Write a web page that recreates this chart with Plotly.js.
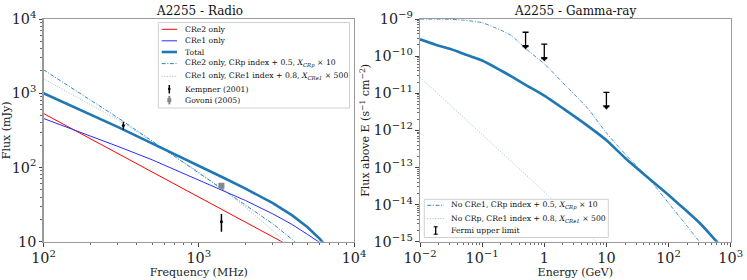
<!DOCTYPE html>
<html><head><meta charset="utf-8">
<script src="https://cdn.plot.ly/plotly-3.0.1.min.js"></script>
<style>html,body{margin:0;padding:0;background:#fff}#chart{width:747px;height:280px}</style>
</head><body><div id="chart"></div>
<script>
// ---------- Radio panel data (MHz, mJy) ----------
const radioFreq   = [100,150,200,300,500,700,1000,1500,2000,3000,4000,5000,6000,7000];
const radioTotal  = [1000,685,525,352,211,151,107,70,52,33,22.6,15.8,11,7.6];
const radioCRe1   = [457,335,268,193,127,94,67.6,46.8,35.9,23.7,17,12.6,9.8,7.4];
const radioCRe2Freq = [100,200,500,1000,2000,3000,4000];
const radioCRe2     = [533,244,87,40,18.3,11.6,8.4];
const radioCRe2AltFreq = [100,200,300,500,700,1000,1500,2000,3000,4000,5000];
const radioCRe2Alt     = [2070,813,470,228,141,85,48,31.6,17.4,10.7,7.1];
const radioCRe1AltFreq = [100,200,300,500,700,1000,1500,2000,3000,4000];
const radioCRe1Alt     = [1570,705,442,224,141,87,46.8,29.2,14.1,8.1];
const kempFreq = [327,1400], kempFlux = [368,18.6], kempErr = [44,5];
const govFreq = [1400], govFlux = [56.5], govErr = [3];

// ---------- Gamma panel data (GeV, s^-1 cm^-2) ----------
const gammaE      = [0.01,0.02,0.03,0.05,0.1,0.2,0.3,0.5,1,2,5,10,20,50,100,200,300,500,700];
const gammaTotal  = [2.83e-10,1.9e-10,1.57e-10,1.16e-10,7.6e-11,4.1e-11,2.8e-11,1.68e-11,8.6e-12,3.9e-12,1.32e-12,5.4e-13,1.8e-13,4.8e-14,1.8e-14,6.5e-15,3.5e-15,1.4e-15,7.4e-16];
const gammaCRpE   = [0.01,0.03,0.05,0.1,0.2,0.3,0.5,1,2,5,10,20,50,100,200,300,500];
const gammaCRp    = [9.9e-10,9.8e-10,9.3e-10,7.9e-10,5.0e-10,3.5e-10,1.6e-10,6.2e-11,1.9e-11,3.9e-12,8.5e-13,2.3e-13,4.6e-14,1.1e-14,2.6e-15,1.1e-15,4.5e-16];
const gammaCRe1E  = [0.01,0.03,0.1,0.3,1,3,10];
const gammaCRe1   = [2.7e-11,5.0e-12,7.9e-13,1.4e-13,2.2e-14,3.8e-15,5.6e-16];
const fermiE = [0.5,1,10], fermiUL = [4.4e-10,2.1e-10,1.06e-11];

// ---------- styles ----------
const C = '#1f77b4', CL = 'rgba(31,119,180,0.55)';
const DASHDOT = '4px,1.6px,1px,1.6px', DOT = '1px,1.6px';
const FONT = 'DejaVu Serif, serif';
const W = 747, H = 280;
const px = v => v / W, py = v => 1 - v / H;
const ARROW = 0.41; // arrow length factor (style)

const traces = [
  {x: radioCRe2Freq, y: radioCRe2, mode:'lines', line:{color:'red', width:1}, xaxis:'x', yaxis:'y'},
  {x: radioFreq, y: radioCRe1, mode:'lines', line:{color:'#2b2bff', width:1}, xaxis:'x', yaxis:'y'},
  {x: radioCRe2AltFreq, y: radioCRe2Alt, mode:'lines', line:{color:C, width:0.9, dash:DASHDOT}, xaxis:'x', yaxis:'y'},
  {x: radioCRe1AltFreq, y: radioCRe1Alt, mode:'lines', line:{color:CL, width:0.9, dash:DOT}, xaxis:'x', yaxis:'y'},
  {x: radioFreq, y: radioTotal, mode:'lines', line:{color:C, width:2.6}, xaxis:'x', yaxis:'y'},
  {x: govFreq, y: govFlux, mode:'markers', marker:{symbol:'square', size:6, color:'#888'},
   error_y:{type:'data', array:govErr, color:'#888', thickness:2, width:0}, xaxis:'x', yaxis:'y'},
  {x: kempFreq, y: kempFlux, mode:'markers', marker:{symbol:'circle', size:3, color:'black'},
   error_y:{type:'data', array:kempErr, color:'black', thickness:1.5, width:0}, xaxis:'x', yaxis:'y'},

  {x: gammaE, y: gammaTotal, mode:'lines', line:{color:C, width:2.6, shape:'spline', smoothing:0.6}, xaxis:'x2', yaxis:'y2'},
  {x: gammaCRpE, y: gammaCRp, mode:'lines', line:{color:C, width:0.8, dash:DASHDOT, shape:'spline', smoothing:0.6}, xaxis:'x2', yaxis:'y2'},
  {x: gammaCRe1E, y: gammaCRe1, mode:'lines', line:{color:CL, width:0.8, dash:DOT}, xaxis:'x2', yaxis:'y2'},
  {x: fermiE, y: fermiUL, mode:'markers', marker:{size:1, color:'black'},
   error_y:{type:'data', symmetric:false, array:fermiUL.map(()=>0), arrayminus:fermiUL.map(v=>v*(1-ARROW)), color:'black', thickness:1.3, width:3}, xaxis:'x2', yaxis:'y2'},
  {x: fermiE, y: fermiUL.map(v=>v*ARROW), mode:'markers', marker:{symbol:'triangle-down', size:6, color:'black'}, xaxis:'x2', yaxis:'y2'}
].map(t => Object.assign({showlegend:false, hoverinfo:'skip'}, t));

const axisBase = {
  type:'log', showgrid:false, zeroline:false, showline:true, mirror:true,
  linecolor:'#9a9a9a', linewidth:1.3, ticks:'outside', ticklen:3.5, tickwidth:1, tickcolor:'#444',
  exponentformat:'power', dtick:1,
  tickfont:{family:FONT, size:11.5, color:'#222'},
  minor:{ticks:'outside', ticklen:2, tickwidth:0.8, tickcolor:'#444', showgrid:false}
};
const tfont = {family:FONT, size:11, color:'#222'};

const layout = {
  width:W, height:H, margin:{l:0,r:0,t:0,b:0}, paper_bgcolor:'white', plot_bgcolor:'white',
  showlegend:false,
  xaxis: Object.assign({}, axisBase, {domain:[px(43.5), px(354)], range:[2,4], anchor:'y',
    title:{text:'Frequency (MHz)', font:tfont, standoff:2}}),
  yaxis: Object.assign({}, axisBase, {domain:[py(241.7), py(19)], range:[1,4], anchor:'x',
    title:{text:'Flux (mJy)', font:tfont, standoff:3}}),
  xaxis2: Object.assign({}, axisBase, {domain:[px(420), px(730.7)], range:[-2,3], anchor:'y2',
    title:{text:'Energy (GeV)', font:tfont, standoff:2}}),
  yaxis2: Object.assign({}, axisBase, {domain:[py(241.7), py(19)], range:[-15,-9], anchor:'x2',
    title:{text:'Flux above E (s<sup>−1</sup> cm<sup>−2</sup>)', font:tfont, standoff:1}}),
  annotations:[], shapes:[]
};

// titles
layout.annotations.push({text:'A2255 - Radio', x:px(199), y:py(11.5), xref:'paper', yref:'paper', showarrow:false, font:{family:FONT,size:12,color:'#111'}, xanchor:'center', yanchor:'middle'});
layout.annotations.push({text:'A2255 - Gamma-ray', x:px(575), y:py(11.5), xref:'paper', yref:'paper', showarrow:false, font:{family:FONT,size:12,color:'#111'}, xanchor:'center', yanchor:'middle'});

// manual legends (matplotlib-style compact)
function box(x0,y0,x1,y1){
  layout.shapes.push({type:'rect', xref:'paper', yref:'paper', x0:px(x0), x1:px(x1), y0:py(y0), y1:py(y1),
    line:{color:'#d0d0d0', width:1}, fillcolor:'rgba(255,255,255,0.85)', layer:'above'});
}
function lineSample(x0,x1,y,style){
  layout.shapes.push({type:'line', xref:'paper', yref:'paper', x0:px(x0), x1:px(x1), y0:py(y), y1:py(y), layer:'above', line:style});
}
function label(x,y,text){
  layout.annotations.push({text:text, x:px(x), y:py(y), xref:'paper', yref:'paper', showarrow:false,
    xanchor:'left', yanchor:'middle', font:{family:FONT, size:7.7, color:'#111'}});
}
const legL = ['CRe2 only','CRe1 only','Total',
  'CRe2 only, CRp index + 0.5, <i>X</i><sub><i>CRp</i></sub> × 10',
  'CRe1 only, CRe1 index + 0.8, <i>X</i><sub><i>CRe1</i></sub> × 500',
  'Kempner (2001)','Govoni (2005)'];
const rowsL = [29.3,40.8,52.0,63.6,76.4,89.0,100.2];
box(158.3,22.5,349.5,108);
lineSample(161.7,177,rowsL[0],{color:'red',width:1});
lineSample(161.7,177,rowsL[1],{color:'#2b2bff',width:1});
lineSample(161.7,177,rowsL[2],{color:C,width:2.6});
lineSample(161.7,177,rowsL[3],{color:C,width:0.9,dash:DASHDOT});
lineSample(161.7,177,rowsL[4],{color:CL,width:0.9,dash:DOT});
// Kempner symbol
layout.shapes.push({type:'line', xref:'paper', yref:'paper', x0:px(169.3), x1:px(169.3), y0:py(85), y1:py(93.5), line:{color:'black',width:1.5}, layer:'above'});
layout.shapes.push({type:'circle', xref:'paper', yref:'paper', x0:px(168), x1:px(170.6), y0:py(87.7), y1:py(90.3), fillcolor:'black', line:{width:0}, layer:'above'});
// Govoni symbol
layout.shapes.push({type:'line', xref:'paper', yref:'paper', x0:px(169.3), x1:px(169.3), y0:py(96), y1:py(104.4), line:{color:'#888',width:2}, layer:'above'});
layout.shapes.push({type:'rect', xref:'paper', yref:'paper', x0:px(167.3), x1:px(171.3), y0:py(98.2), y1:py(102.2), fillcolor:'#888', line:{width:0}, layer:'above'});
legL.forEach((t,i)=>label(183.3, rowsL[i], t));

const legR = ['No CRe1, CRp index + 0.5, <i>X</i><sub><i>CRp</i></sub> × 10',
  'No CRp, CRe1 index + 0.8, <i>X</i><sub><i>CRe1</i></sub> × 500',
  'Fermi upper limit'];
const rowsR = [205.3,218.6,230.4];
box(424.3,199.3,608.3,237.5);
lineSample(427.3,444,rowsR[0],{color:C,width:0.9,dash:DASHDOT});
lineSample(427.3,444,rowsR[1],{color:CL,width:0.9,dash:DOT});
layout.shapes.push({type:'line', xref:'paper', yref:'paper', x0:px(435.7), x1:px(435.7), y0:py(226.8), y1:py(234.2), line:{color:'black',width:1.3}, layer:'above'});
layout.shapes.push({type:'line', xref:'paper', yref:'paper', x0:px(433.7), x1:px(437.7), y0:py(226.8), y1:py(226.8), line:{color:'black',width:1.1}, layer:'above'});
layout.shapes.push({type:'line', xref:'paper', yref:'paper', x0:px(433.7), x1:px(437.7), y0:py(234.2), y1:py(234.2), line:{color:'black',width:1.1}, layer:'above'});
legR.forEach((t,i)=>label(449.3, rowsR[i], t));

Plotly.newPlot('chart', traces, layout, {staticPlot:true, displayModeBar:false});
</script></body></html>
